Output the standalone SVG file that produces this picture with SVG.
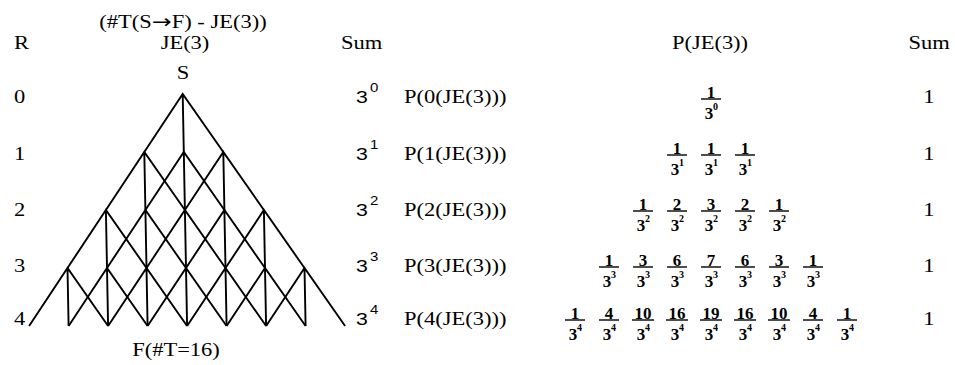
<svg xmlns="http://www.w3.org/2000/svg" width="955" height="365" viewBox="0 0 955 365">
<style>
  text { font-family: "Liberation Serif", "Times New Roman", serif; font-size: 18px; fill: #000; }
  .m { text-anchor: middle; }
  .arrow { font-family: "DejaVu Sans", sans-serif; font-size: 19px; }
  .sans { font-family: "Liberation Sans", Arial, sans-serif; font-size: 17px; }
  .supl { font-family: "Liberation Sans", Arial, sans-serif; font-size: 12px; }
  .num { font-size: 17px; text-anchor: middle; font-weight: bold; }
  .den { font-size: 17px; text-anchor: middle; font-weight: bold; }
  .sup { font-size: 10px; font-weight: bold; }
  .bar { stroke: #000; stroke-width: 1.4; }
  #edges path { fill: none; stroke: #000; stroke-width: 1.9; stroke-linejoin: miter; }
</style>

<g id="edges">
  <path d="M144.3 152 L182.7 94 L223.3 152 M182.7 94 L183.8 152"/>
  <path d="M105.9 210 L144.3 152 L184.9 210 M144.3 152 L145.4 210"/>
  <path d="M145.4 210 L183.8 152 L224.4 210 M183.8 152 L184.9 210"/>
  <path d="M184.9 210 L223.3 152 L263.9 210 M223.3 152 L224.4 210"/>
  <path d="M67.5 268 L105.9 210 L146.5 268 M105.9 210 L107 268"/>
  <path d="M107 268 L145.4 210 L186 268 M145.4 210 L146.5 268"/>
  <path d="M146.5 268 L184.9 210 L225.5 268 M184.9 210 L186 268"/>
  <path d="M186 268 L224.4 210 L265 268 M224.4 210 L225.5 268"/>
  <path d="M225.5 268 L263.9 210 L304.5 268 M263.9 210 L265 268"/>
  <path d="M29.1 326 L67.5 268 L108.1 326 M67.5 268 L68.6 326"/>
  <path d="M68.6 326 L107 268 L147.6 326 M107 268 L108.1 326"/>
  <path d="M108.1 326 L146.5 268 L187.1 326 M146.5 268 L147.6 326"/>
  <path d="M147.6 326 L186 268 L226.6 326 M186 268 L187.1 326"/>
  <path d="M187.1 326 L225.5 268 L266.1 326 M225.5 268 L226.6 326"/>
  <path d="M226.6 326 L265 268 L305.6 326 M265 268 L266.1 326"/>
  <path d="M266.1 326 L304.5 268 L345.1 326 M304.5 268 L305.6 326"/>
</g>

<g id="header">
  <text class="m" transform="translate(183 28) scale(1.25 1)">(#T(S<tspan class="arrow">→</tspan>F) - JE(3))</text>
  <text transform="translate(14 49) scale(1.25 1)">R</text>
  <text class="m" transform="translate(185 49) scale(1.25 1)">JE(3)</text>
  <text transform="translate(341 49) scale(1.25 1)">Sum</text>
  <text class="m" transform="translate(710 49) scale(1.25 1)">P(JE(3))</text>
  <text class="m" transform="translate(929 49) scale(1.25 1)">Sum</text>
</g>

<g id="node-S">
  <text class="m" transform="translate(183 79) scale(1.25 1)">S</text>
</g>
<g id="node-F">
  <text class="m" transform="translate(176 356) scale(1.25 1)">F(#T=16)</text>
</g>

<g id="row-0">
  <text transform="translate(14 103) scale(1.25 1)">0</text>
  <text class="sans" transform="translate(356 103) scale(1.25 1)">3</text>
  <text class="supl" transform="translate(370 92) scale(1.25 1)">0</text>
  <text transform="translate(404 103) scale(1.25 1)">P(0(JE(3)))</text>
  <g transform="translate(711 99)"><text class="num" y="-1">1</text><line class="bar" x1="-10" x2="10"/><text class="den" x="-2" y="20">3</text><text class="sup" x="2" y="11">0</text></g>
  <text class="m" transform="translate(929 103) scale(1.25 1)">1</text>
</g>

<g id="row-1">
  <text transform="translate(14 160) scale(1.25 1)">1</text>
  <text class="sans" transform="translate(356 160) scale(1.25 1)">3</text>
  <text class="supl" transform="translate(370 149) scale(1.25 1)">1</text>
  <text transform="translate(404 160) scale(1.25 1)">P(1(JE(3)))</text>
  <g transform="translate(677 155)"><text class="num" y="-1">1</text><line class="bar" x1="-10" x2="10"/><text class="den" x="-2" y="20">3</text><text class="sup" x="2" y="11">1</text></g>
  <g transform="translate(711 155)"><text class="num" y="-1">1</text><line class="bar" x1="-10" x2="10"/><text class="den" x="-2" y="20">3</text><text class="sup" x="2" y="11">1</text></g>
  <g transform="translate(745 155)"><text class="num" y="-1">1</text><line class="bar" x1="-10" x2="10"/><text class="den" x="-2" y="20">3</text><text class="sup" x="2" y="11">1</text></g>
  <text class="m" transform="translate(929 160) scale(1.25 1)">1</text>
</g>

<g id="row-2">
  <text transform="translate(14 216) scale(1.25 1)">2</text>
  <text class="sans" transform="translate(356 216) scale(1.25 1)">3</text>
  <text class="supl" transform="translate(370 205) scale(1.25 1)">2</text>
  <text transform="translate(404 216) scale(1.25 1)">P(2(JE(3)))</text>
  <g transform="translate(643 211)"><text class="num" y="-1">1</text><line class="bar" x1="-10" x2="10"/><text class="den" x="-2" y="20">3</text><text class="sup" x="2" y="11">2</text></g>
  <g transform="translate(677 211)"><text class="num" y="-1">2</text><line class="bar" x1="-10" x2="10"/><text class="den" x="-2" y="20">3</text><text class="sup" x="2" y="11">2</text></g>
  <g transform="translate(711 211)"><text class="num" y="-1">3</text><line class="bar" x1="-10" x2="10"/><text class="den" x="-2" y="20">3</text><text class="sup" x="2" y="11">2</text></g>
  <g transform="translate(745 211)"><text class="num" y="-1">2</text><line class="bar" x1="-10" x2="10"/><text class="den" x="-2" y="20">3</text><text class="sup" x="2" y="11">2</text></g>
  <g transform="translate(779 211)"><text class="num" y="-1">1</text><line class="bar" x1="-10" x2="10"/><text class="den" x="-2" y="20">3</text><text class="sup" x="2" y="11">2</text></g>
  <text class="m" transform="translate(929 216) scale(1.25 1)">1</text>
</g>

<g id="row-3">
  <text transform="translate(14 272) scale(1.25 1)">3</text>
  <text class="sans" transform="translate(356 272) scale(1.25 1)">3</text>
  <text class="supl" transform="translate(370 261) scale(1.25 1)">3</text>
  <text transform="translate(404 272) scale(1.25 1)">P(3(JE(3)))</text>
  <g transform="translate(609 267)"><text class="num" y="-1">1</text><line class="bar" x1="-10" x2="10"/><text class="den" x="-2" y="20">3</text><text class="sup" x="2" y="11">3</text></g>
  <g transform="translate(643 267)"><text class="num" y="-1">3</text><line class="bar" x1="-10" x2="10"/><text class="den" x="-2" y="20">3</text><text class="sup" x="2" y="11">3</text></g>
  <g transform="translate(677 267)"><text class="num" y="-1">6</text><line class="bar" x1="-10" x2="10"/><text class="den" x="-2" y="20">3</text><text class="sup" x="2" y="11">3</text></g>
  <g transform="translate(711 267)"><text class="num" y="-1">7</text><line class="bar" x1="-10" x2="10"/><text class="den" x="-2" y="20">3</text><text class="sup" x="2" y="11">3</text></g>
  <g transform="translate(745 267)"><text class="num" y="-1">6</text><line class="bar" x1="-10" x2="10"/><text class="den" x="-2" y="20">3</text><text class="sup" x="2" y="11">3</text></g>
  <g transform="translate(779 267)"><text class="num" y="-1">3</text><line class="bar" x1="-10" x2="10"/><text class="den" x="-2" y="20">3</text><text class="sup" x="2" y="11">3</text></g>
  <g transform="translate(813 267)"><text class="num" y="-1">1</text><line class="bar" x1="-10" x2="10"/><text class="den" x="-2" y="20">3</text><text class="sup" x="2" y="11">3</text></g>
  <text class="m" transform="translate(929 272) scale(1.25 1)">1</text>
</g>

<g id="row-4">
  <text transform="translate(14 325) scale(1.25 1)">4</text>
  <text class="sans" transform="translate(356 325) scale(1.25 1)">3</text>
  <text class="supl" transform="translate(370 314) scale(1.25 1)">4</text>
  <text transform="translate(404 325) scale(1.25 1)">P(4(JE(3)))</text>
  <g transform="translate(575 320)"><text class="num" y="-1">1</text><line class="bar" x1="-10" x2="10"/><text class="den" x="-2" y="20">3</text><text class="sup" x="2" y="11">4</text></g>
  <g transform="translate(609 320)"><text class="num" y="-1">4</text><line class="bar" x1="-10" x2="10"/><text class="den" x="-2" y="20">3</text><text class="sup" x="2" y="11">4</text></g>
  <g transform="translate(643 320)"><text class="num" y="-1">10</text><line class="bar" x1="-11" x2="11"/><text class="den" x="-2" y="20">3</text><text class="sup" x="2" y="11">4</text></g>
  <g transform="translate(677 320)"><text class="num" y="-1">16</text><line class="bar" x1="-11" x2="11"/><text class="den" x="-2" y="20">3</text><text class="sup" x="2" y="11">4</text></g>
  <g transform="translate(711 320)"><text class="num" y="-1">19</text><line class="bar" x1="-11" x2="11"/><text class="den" x="-2" y="20">3</text><text class="sup" x="2" y="11">4</text></g>
  <g transform="translate(745 320)"><text class="num" y="-1">16</text><line class="bar" x1="-11" x2="11"/><text class="den" x="-2" y="20">3</text><text class="sup" x="2" y="11">4</text></g>
  <g transform="translate(779 320)"><text class="num" y="-1">10</text><line class="bar" x1="-11" x2="11"/><text class="den" x="-2" y="20">3</text><text class="sup" x="2" y="11">4</text></g>
  <g transform="translate(813 320)"><text class="num" y="-1">4</text><line class="bar" x1="-10" x2="10"/><text class="den" x="-2" y="20">3</text><text class="sup" x="2" y="11">4</text></g>
  <g transform="translate(847 320)"><text class="num" y="-1">1</text><line class="bar" x1="-10" x2="10"/><text class="den" x="-2" y="20">3</text><text class="sup" x="2" y="11">4</text></g>
  <text class="m" transform="translate(929 325) scale(1.25 1)">1</text>
</g>
</svg>
